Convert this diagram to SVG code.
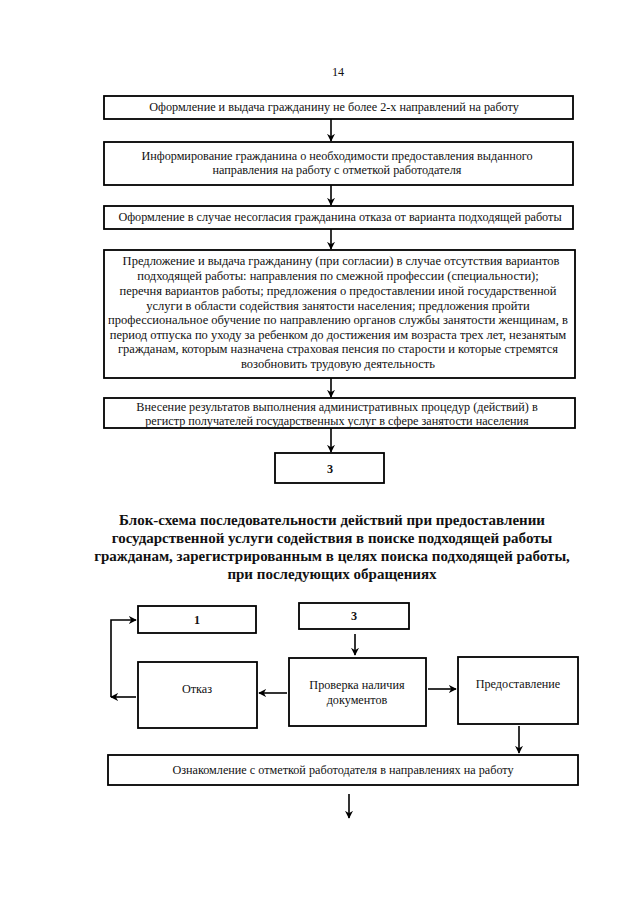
<svg xmlns="http://www.w3.org/2000/svg" width="640" height="905" viewBox="0 0 640 905">
<defs>
<marker id="ah" viewBox="0 0 10 10" refX="9" refY="5" markerWidth="8" markerHeight="8" markerUnits="userSpaceOnUse" orient="auto">
<path d="M0,0 L10,5 L0,10 L3,5 Z" fill="#000"/>
</marker>
</defs>
<style>
.box{fill:#fff;stroke:#000;stroke-width:1.8}
.t{font-family:"Liberation Serif","Times New Roman",serif;font-size:12.2px;fill:#111;text-anchor:middle}
.t4{font-size:12.5px}
.b{font-family:"Liberation Serif","Times New Roman",serif;font-size:15px;font-weight:bold;fill:#111;text-anchor:middle}
.c{fill:none;stroke:#000;stroke-width:1.6;marker-end:url(#ah)}
</style>
<rect width="640" height="905" fill="#fff"/>
<text class="t" x="338" y="76">14</text>

<g id="n1"><rect class="box" x="104" y="96" width="469" height="23"/>
<text class="t" x="334" y="111">Оформление и выдача гражданину не более 2-х направлений на работу</text></g>

<g id="n2"><rect class="box" x="104" y="142" width="469" height="43"/>
<text class="t" x="337" y="160">Информирование гражданина о необходимости предоставления выданного</text>
<text class="t" x="337" y="174">направления на работу с отметкой работодателя</text></g>

<g id="n3"><rect class="box" x="104" y="206" width="469" height="23"/>
<text class="t" x="340" y="221">Оформление в случае несогласия гражданина отказа от варианта подходящей работы</text></g>

<g id="n4"><rect class="box" x="104" y="250" width="471" height="128"/>
<text class="t t4" x="341" y="265">Предложение и выдача гражданину (при согласии) в случае отсутствия вариантов</text>
<text class="t t4" x="338" y="280">подходящей работы: направления по смежной профессии (специальности);</text>
<text class="t t4" x="338" y="295">перечня вариантов работы; предложения о предоставлении иной государственной</text>
<text class="t t4" x="338" y="310">услуги в области содействия занятости населения; предложения пройти</text>
<text class="t t4" x="338" y="324">профессиональное обучение по направлению органов службы занятости женщинам, в</text>
<text class="t t4" x="338" y="339">период отпуска по уходу за ребенком до достижения им возраста трех лет, незанятым</text>
<text class="t t4" x="338" y="353">гражданам, которым назначена страховая пенсия по старости и которые стремятся</text>
<text class="t t4" x="338" y="368">возобновить трудовую деятельность</text></g>

<g id="n5"><rect class="box" x="104" y="398" width="471" height="30"/>
<text class="t" x="337" y="411">Внесение результатов выполнения административных процедур (действий) в</text>
<text class="t" x="337" y="425">регистр получателей государственных услуг в сфере занятости населения</text></g>

<g id="n6"><rect class="box" x="275" y="453" width="109" height="30"/>
<text class="t" x="330" y="473" font-weight="bold" font-size="13">3</text></g>

<g id="title">
<text class="b" x="332" y="525">Блок-схема последовательности действий при предоставлении</text>
<text class="b" x="332" y="543">государственной услуги содействия  в поиске подходящей работы</text>
<text class="b" x="332" y="561">гражданам, зарегистрированным в целях поиска подходящей работы,</text>
<text class="b" x="332" y="579">при последующих обращениях</text>
</g>

<g id="n7"><rect class="box" x="138" y="606" width="118" height="27"/>
<text class="t" x="197" y="624" font-weight="bold" font-size="13">1</text></g>

<g id="n8"><rect class="box" x="299" y="603" width="110" height="26"/>
<text class="t" x="354" y="620" font-weight="bold" font-size="13">3</text></g>

<g id="n9"><rect class="box" x="138" y="662" width="119" height="66"/>
<text class="t" x="197" y="693">Отказ</text></g>

<g id="n10"><rect class="box" x="289" y="658" width="137" height="68"/>
<text class="t" x="357" y="689">Проверка наличия</text>
<text class="t" x="357" y="704">документов</text></g>

<g id="n11"><rect class="box" x="458" y="657" width="120" height="67"/>
<text class="t" x="518" y="688">Предоставление</text></g>

<g id="n12"><rect class="box" x="108" y="755" width="470" height="30"/>
<text class="t" x="343" y="774">Ознакомление с отметкой работодателя в направлениях на работу</text></g>

<g id="connectors">
<path class="c" d="M331,119 V141"/>
<path class="c" d="M331,185 V205"/>
<path class="c" d="M331,229 V249"/>
<path class="c" d="M331,378 V397"/>
<path class="c" d="M331,428 V452"/>
<path class="c" d="M355,634 V655"/>
<path class="c" d="M287,693 H259"/>
<path class="c" d="M428,689 H456"/>
<path class="c" d="M136,697 H111"/>
<path class="c" d="M111,697 V620 H136"/>
<path class="c" d="M519,726 V753"/>
<path class="c" d="M349,794 V818"/>
</g>
</svg>
